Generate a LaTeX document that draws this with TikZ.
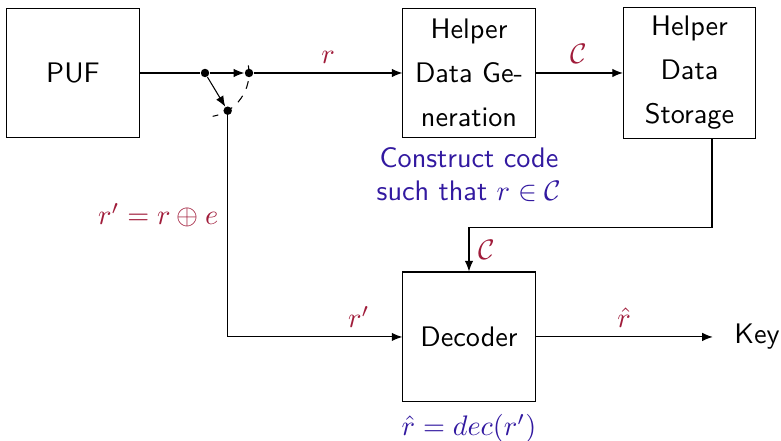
\RequirePackage{fix-cm}
\documentclass[tikz,border=0pt]{standalone}
\usepackage{amsmath}
\usepackage{xcolor}
\usepackage{tikz}
\usetikzlibrary{positioning, arrows.meta}

\definecolor{labred}{RGB}{160,28,58}
\definecolor{labblue}{RGB}{50,25,160}

\begin{document}
\begin{tikzpicture}[
  every node/.style={font=\sffamily\fontsize{10.7}{12.6}\selectfont},
  block/.style={draw, minimum width=1.76cm, minimum height=1.73cm, align=center,
    font=\sffamily\fontsize{10.7}{16.7}\selectfont},
  flow/.style={-{Latex[length=4pt,width=3.2pt]}},
  redlab/.style={text=labred},
  bluelab/.style={text=labblue, align=center},
  swdot/.style={circle, fill, inner sep=0pt, minimum size=3.2pt}
]
  \useasboundingbox (0,0) rectangle (10.40,5.872);

  % ── Blocks ──
  \node[block] (puf) at (0.972,4.900) {PUF};
  \node[block] (hdg) at (6.245,4.900) {Helper\\Data Ge-\\neration};
  \node[block] (hds) at (9.181,4.900) {Helper\\Data\\Storage};
  \node[block] (dec) at (6.245,1.385) {Decoder};
  \node[inner sep=8pt] (key) at (10.08,1.385) {Key};

  % ── Switch ──
  \node[swdot] (sw0) at (2.730,4.900) {};
  \path (sw0.center) ++(0:0.586) node[swdot] (sw1) {};
  \path (sw0.center) ++(-59:0.586) node[swdot] (sw2) {};
  \draw (puf) -- (sw0);
  \draw[flow] (sw0) -- (sw1);
  \draw[flow] (sw0) -- (sw2);
  \draw[dashed] ([shift={(10:0.586)}]sw0.center)
    arc[start angle=10, end angle=-80, radius=0.586];

  % ── Enrollment ──
  \draw[flow] (sw1) -- node[above, redlab] {$r$} (hdg);
  \draw[flow] (hdg) -- node[above, redlab] {$\mathcal{C}$} (hds);
  \node[bluelab, below=0pt of hdg] (cons) {Construct code\\such that $r \in \mathcal{C}$};

  % ── Helper data to decoder ──
  \coordinate (hdsout) at ([xshift=0.3cm]hds.south);
  \coordinate (decin) at ([yshift=0.586cm]dec.north);
  \draw[flow] (hdsout) |- (decin) -- node[right, redlab] {$\mathcal{C}$} (dec.north);

  % ── Reconstruction ──
  \coordinate (corner) at (sw2 |- dec.west);
  \draw (sw2) -- node[left, pos=0.45, redlab] {$r' = r \oplus e$} (corner);
  \draw[flow] (corner) -- node[above, pos=0.75, redlab] {$r'$} (dec);
  \draw[flow] (dec) -- node[above, redlab] {$\hat{r}$} (key);
  \node[bluelab, below=1pt of dec] (decnote) {$\hat{r} = dec(r')$};
\end{tikzpicture}
\end{document}
